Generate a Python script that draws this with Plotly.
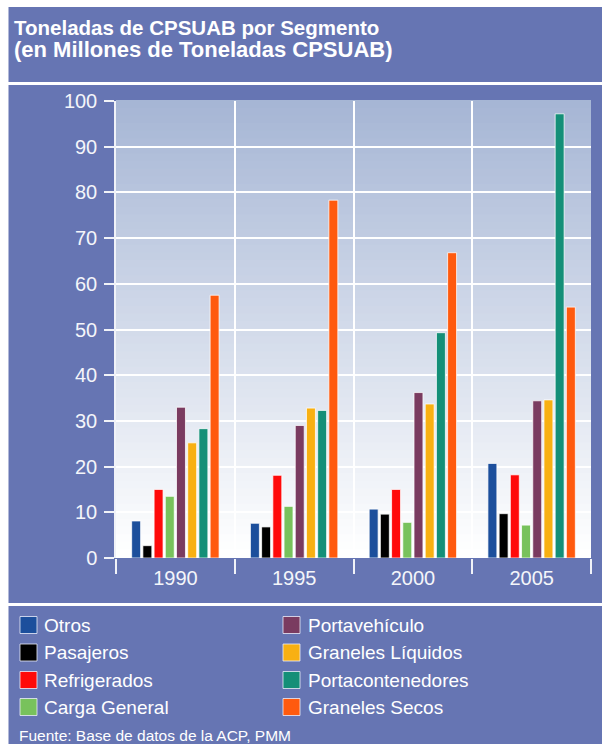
import plotly.graph_objects as go

# ---- data -----------------------------------------------------------------
years = ["1990", "1995", "2000", "2005"]

segments = [
    "Otros", "Pasajeros", "Refrigerados", "Carga General",
    "Portavehículo", "Graneles Líquidos", "Portacontenedores", "Graneles Secos",
]

otros = [8.1, 7.6, 10.7, 20.7]
pasajeros = [2.7, 6.8, 9.6, 9.7]
refrigerados = [15.0, 18.1, 15.0, 18.2]
carga_general = [13.5, 11.3, 7.8, 7.2]
portavehiculo = [33.0, 29.0, 36.2, 34.4]
graneles_liquidos = [25.2, 32.8, 33.7, 34.6]
portacontenedores = [28.3, 32.3, 49.3, 97.2]
graneles_secos = [57.5, 78.3, 66.8, 54.9]

series_values = [
    otros, pasajeros, refrigerados, carga_general,
    portavehiculo, graneles_liquidos, portacontenedores, graneles_secos,
]

colors = [
    "#1c4f9c", "#000000", "#ff0a0a", "#78c25c",
    "#7a3b60", "#f8b012", "#148f78", "#ff5a0e",
]

y_ticks = list(range(0, 101, 10))

# ---- page geometry (pixels) ------------------------------------------------
FIG_W, FIG_H = 602, 744
M_L, M_R, M_T, M_B = 116, 11, 101, 186
PLOT_W = FIG_W - M_L - M_R
PLOT_H = FIG_H - M_T - M_B

PANEL = "#6675b3"
TEXT = "#f4f5fa"


def px_x(px):
    return (px - M_L) / PLOT_W


def px_y(py):
    return (FIG_H - M_B - py) / PLOT_H


fig = go.Figure()

for name, vals, col in zip(segments, series_values, colors):
    fig.add_trace(go.Bar(
        name=name, x=years, y=vals,
        marker=dict(color=col, line=dict(color="rgba(255,255,255,0.75)", width=1)),
        showlegend=False,
    ))

shapes = []


def rect(x0, y0, x1, y1, color, line=None):
    shapes.append(dict(
        type="rect", xref="paper", yref="paper", layer="below",
        x0=px_x(x0), x1=px_x(x1), y0=px_y(y1), y1=px_y(y0),
        fillcolor=color, line=line or dict(width=0),
    ))


# blue panels: title, chart, legend
rect(8.5, 7, FIG_W, 82, PANEL)
rect(8.5, 85, FIG_W, 603, PANEL)
rect(8.5, 606, FIG_W, FIG_H, PANEL)

# plot area vertical gradient (light steel blue -> white)
top_rgb = (166, 182, 213)
bot_rgb = (255, 255, 255)
n_strips = 60
for i in range(n_strips):
    t = i / (n_strips - 1)
    c = tuple(round(top_rgb[k] + (bot_rgb[k] - top_rgb[k]) * t) for k in range(3))
    y0 = i / n_strips
    y1 = (i + 1) / n_strips
    shapes.append(dict(
        type="rect", xref="paper", yref="paper", layer="below",
        x0=0, x1=1, y0=1 - y1, y1=1 - y0 + 0.002,
        fillcolor="rgb(%d,%d,%d)" % c, line=dict(width=0),
    ))

annotations = []


def text(x, y, s, size, bold=False, family="Liberation Sans, Arial, sans-serif"):
    annotations.append(dict(
        xref="paper", yref="paper", x=px_x(x), y=px_y(y),
        xanchor="left", yanchor="middle", showarrow=False,
        text=("<b>%s</b>" % s) if bold else s,
        font=dict(size=size, color="white", family=family),
    ))


text(12, 27, "Toneladas de CPSUAB por Segmento", 20.5, bold=True)
text(12, 50, "(en Millones de Toneladas CPSUAB)", 22, bold=True)

# legend: two columns, four rows
row_y = [625, 652.5, 680, 707]
col_sq = [20, 283]
col_tx = [42, 306]
SQ = 17
for i, (name, col) in enumerate(zip(segments, colors)):
    c, r = divmod(i, 4)
    y = row_y[r]
    rect(col_sq[c], y - SQ / 2, col_sq[c] + SQ, y + SQ / 2, col,
         line=dict(color="rgba(235,238,250,0.8)", width=1))
    text(col_tx[c], y, name, 19)

text(17, 735, "Fuente: Base de datos de la ACP, PMM", 15.5)

fig.update_layout(
    width=FIG_W, height=FIG_H,
    margin=dict(l=M_L, r=M_R, t=M_T, b=M_B, pad=0),
    paper_bgcolor="white",
    plot_bgcolor="rgba(0,0,0,0)",
    barmode="group", bargap=0.245, bargroupgap=0.2,
    shapes=shapes, annotations=annotations,
    font=dict(family="Liberation Sans, Arial, sans-serif", color=TEXT),
    showlegend=False,
)

fig.update_xaxes(
    type="category", tickson="boundaries",
    ticks="outside", ticklen=15, tickwidth=1.5, tickcolor="#f0f2f8",
    showgrid=True, gridcolor="white", gridwidth=2,
    showline=False, zeroline=False,
    tickfont=dict(size=20, color=TEXT),
    ticklabelstandoff=6,
)

fig.update_yaxes(
    range=[0, 100], tickvals=y_ticks,
    ticks="outside", ticklen=10, tickwidth=1.5, tickcolor="#f0f2f8",
    showgrid=True, gridcolor="white", gridwidth=1.5,
    showline=True, linecolor="#f0f2f8", linewidth=1.5,
    zeroline=False,
    tickfont=dict(size=20, color=TEXT),
    ticklabelstandoff=3,
)

fig.write_html("out.html")
